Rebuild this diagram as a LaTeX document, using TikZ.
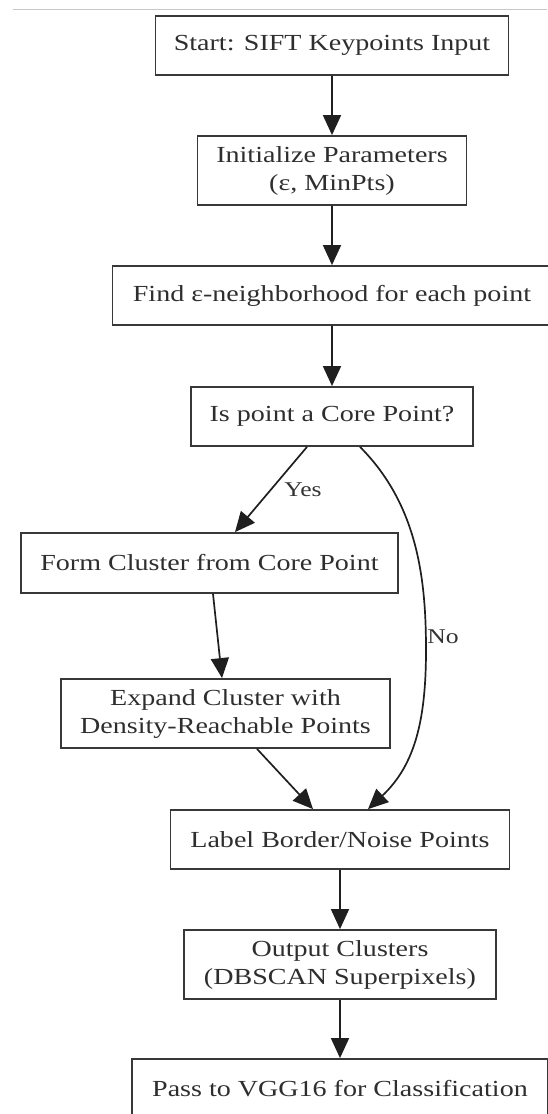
\documentclass[tikz,border=0pt]{standalone}
\usepackage{fontspec}
\setmainfont[FakeStretch=1.22]{Liberation Serif}
\usetikzlibrary{arrows.meta}
\begin{document}
\begin{tikzpicture}[x=1pt,y=-1pt,
  box/.style={draw=black!78, line width=1.8pt, text=black!82, inner sep=0pt, align=center, font=\fontsize{23}{28}\selectfont},
  arr/.style={draw=black!88, line width=1.7pt, -{Triangle[length=20pt,width=18pt]}},
  elab/.style={text=black!80, font=\fontsize{21}{25}\selectfont, inner sep=0pt}]
\useasboundingbox (0,0) rectangle (547,1114);
\coordinate (topl) at (13,9.5);
\coordinate (topr) at (547,9.5);
\draw[black!22, line width=1pt] (topl) -- (topr);

\node[box, minimum width=353pt, minimum height=59pt] (start) at (332,45.5) {Start: SIFT Keypoints Input};
\node[box, minimum width=269pt, minimum height=69pt] (init) at (332,170.5) {Initialize Parameters\\(ε, MinPts)};
\node[box, minimum width=439pt, minimum height=59pt] (find) at (332,295.5) {Find ε-neighborhood for each point};
\node[box, minimum width=282pt, minimum height=59pt] (core) at (332,416.5) {Is point a Core Point?};
\node[box, minimum width=377pt, minimum height=60pt] (form) at (209.5,563) {Form Cluster from Core Point};
\node[box, minimum width=329pt, minimum height=69pt] (expand) at (225.5,713.5) {Expand Cluster with\\Density-Reachable Points};
\node[box, minimum width=339pt, minimum height=59pt] (label) at (340,839.5) {Label Border/Noise Points};
\node[box, minimum width=312pt, minimum height=69pt] (output) at (340,964.5) {Output Clusters\\(DBSCAN Superpixels)};
\node[box, minimum width=416pt, minimum height=59pt] (pass) at (340,1088.5) {Pass to VGG16 for Classification};

\node[elab] (yeslab) at (303,490) {Yes};
\node[elab] (nolab) at (443,637) {No};

\draw[arr] (start) -- (init);
\draw[arr] (init) -- (find);
\draw[arr] (find) -- (core);
\draw[arr] ([xshift=-25pt]core.south) -- ([xshift=25.5pt]form.north);
\draw[arr] ([xshift=28pt]core.south) .. controls (418,505) and (426,580) .. (426,650) .. controls (426,720) and (415,765) .. ([xshift=28pt]label.north);
\draw[arr] ([xshift=3.5pt]form.south) -- ([xshift=-3.5pt]expand.north);
\draw[arr] ([xshift=31.5pt]expand.south) -- ([xshift=-27pt]label.north);
\draw[arr] (label) -- (output);
\draw[arr] (output) -- (pass);
\end{tikzpicture}
\end{document}
